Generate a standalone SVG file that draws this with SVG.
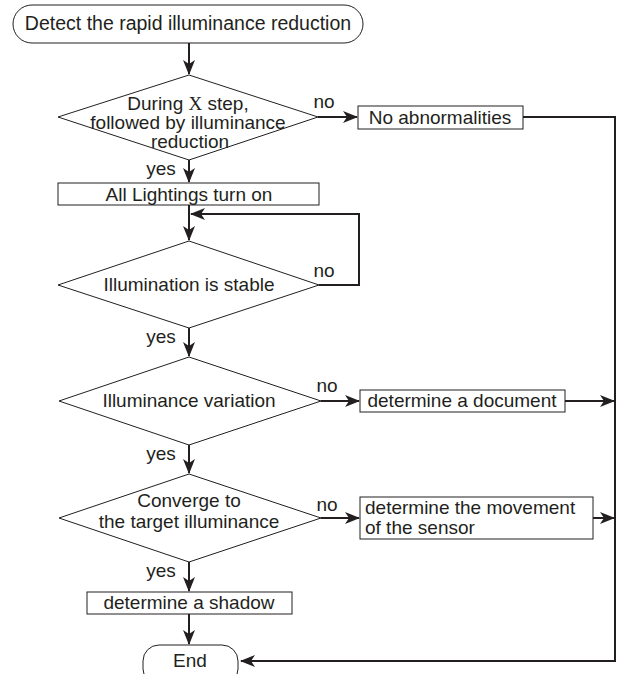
<svg xmlns="http://www.w3.org/2000/svg" width="621" height="674" viewBox="0 0 621 674">
<style>
.sh{fill:#fff;stroke:#231f20;stroke-width:1}
.t{font-family:"Liberation Sans",Arial,sans-serif;font-size:19px;fill:#231f20}
.c{text-anchor:middle}
.ln{fill:none;stroke:#231f20;stroke-width:2}
</style>
<defs>
<marker id="ah" viewBox="0 0 15 12" refX="14" refY="6" markerWidth="15" markerHeight="12" markerUnits="userSpaceOnUse" orient="auto">
<path d="M0,0 L15,6 L0,12 L4,6 z" fill="#231f20"/>
</marker>
</defs>
<rect width="621" height="674" fill="#fff"/>
<g id="connectors">
<line class="ln" x1="189" y1="43" x2="189" y2="74" marker-end="url(#ah)"/>
<line class="ln" x1="318" y1="117" x2="357" y2="117" marker-end="url(#ah)"/>
<polyline class="ln" points="523,117 615,117 615,661 241,661" marker-end="url(#ah)"/>
<line class="ln" x1="189" y1="160" x2="189" y2="182" marker-end="url(#ah)"/>
<line class="ln" x1="189" y1="205" x2="189" y2="240" marker-end="url(#ah)"/>
<polyline class="ln" points="319,285 359,285 359,214 191,214" marker-end="url(#ah)"/>
<line class="ln" x1="189" y1="328" x2="189" y2="356" marker-end="url(#ah)"/>
<line class="ln" x1="321" y1="401" x2="359" y2="401" marker-end="url(#ah)"/>
<line class="ln" x1="565" y1="401" x2="614" y2="401" marker-end="url(#ah)"/>
<line class="ln" x1="189" y1="445" x2="189" y2="473" marker-end="url(#ah)"/>
<line class="ln" x1="321" y1="518" x2="359" y2="518" marker-end="url(#ah)"/>
<line class="ln" x1="593" y1="518" x2="614" y2="518" marker-end="url(#ah)"/>
<line class="ln" x1="189" y1="562" x2="189" y2="591" marker-end="url(#ah)"/>
<line class="ln" x1="189" y1="614" x2="189" y2="644" marker-end="url(#ah)"/>
<text class="t c" x="324" y="108">no</text>
<text class="t c" x="161" y="175">yes</text>
<text class="t c" x="324" y="277">no</text>
<text class="t c" x="161" y="343">yes</text>
<text class="t c" x="327" y="392">no</text>
<text class="t c" x="161" y="460">yes</text>
<text class="t c" x="327" y="511">no</text>
<text class="t c" x="161" y="577">yes</text>
</g>
<g id="start">
<rect class="sh" x="13" y="5" width="350" height="38" rx="19" ry="19"/>
<text class="t c" x="188" y="30" style="font-size:19.5px">Detect the rapid illuminance reduction</text>
</g>
<g id="d1">
<polygon class="sh" points="189,75 318,117 189,160 58,117"/>
<text class="t c" x="188" y="110">During <tspan style="font-family:'Liberation Serif','Times New Roman',serif">X</tspan> step,</text>
<text class="t c" x="188" y="129">followed by illuminance</text>
<text class="t c" x="190" y="148">reduction</text>
</g>
<g id="no-abnormalities">
<rect class="sh" x="358" y="106" width="165" height="23"/>
<text class="t c" x="440" y="124">No abnormalities</text>
</g>
<g id="all-lightings">
<rect class="sh" x="58" y="183" width="261" height="22"/>
<text class="t c" x="189" y="201">All Lightings turn on</text>
</g>
<g id="d2">
<polygon class="sh" points="189,241 319,285 189,328 58,285"/>
<text class="t c" x="189" y="291">Illumination is stable</text>
</g>
<g id="d3">
<polygon class="sh" points="189,357 321,401 189,445 59,401"/>
<text class="t c" x="189" y="407">Illuminance variation</text>
</g>
<g id="document">
<rect class="sh" x="360" y="390" width="205" height="22"/>
<text class="t c" x="462" y="407">determine a document</text>
</g>
<g id="d4">
<polygon class="sh" points="189,474 321,518 189,562 59,518"/>
<text class="t c" x="189" y="507">Converge to</text>
<text class="t c" x="189" y="528">the target illuminance</text>
</g>
<g id="movement">
<rect class="sh" x="360" y="497" width="233" height="42"/>
<text class="t" x="365" y="514">determine the movement</text>
<text class="t" x="365" y="534">of the sensor</text>
</g>
<g id="shadow">
<rect class="sh" x="87" y="592" width="205" height="22"/>
<text class="t c" x="189" y="609">determine a shadow</text>
</g>
<g id="end">
<rect class="sh" x="143" y="645" width="95" height="40" rx="16" ry="16"/>
<text class="t c" x="190" y="667">End</text>
</g>
</svg>
